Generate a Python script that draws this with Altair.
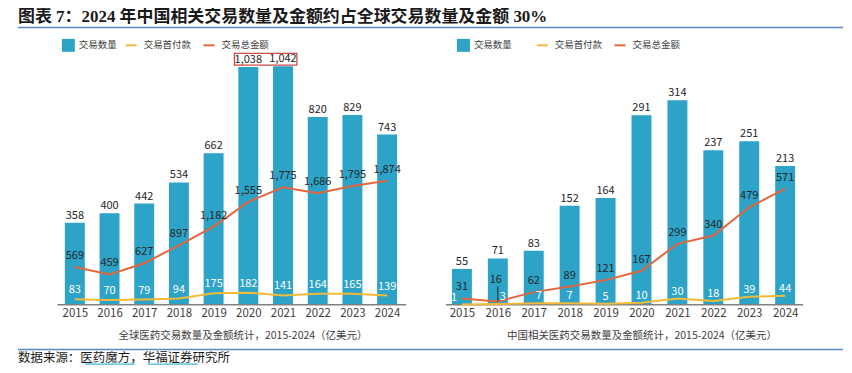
import altair as alt
import pandas as pd

# ---------------- data ----------------
years = [2015, 2016, 2017, 2018, 2019, 2020, 2021, 2022, 2023, 2024]
global_count = [358, 400, 442, 534, 662, 1038, 1042, 820, 829, 743]
global_upfront = [83, 70, 79, 94, 175, 182, 141, 164, 165, 139]
global_total = [569, 459, 627, 897, 1182, 1555, 1775, 1686, 1795, 1874]
china_count = [55, 71, 83, 152, 164, 291, 314, 237, 251, 213]
china_upfront = [1, 3, 7, 7, 5, 10, 30, 18, 39, 44]
china_total = [31, 16, 62, 89, 121, 167, 299, 340, 479, 571]

series_names = ["交易数量", "交易首付款", "交易总金额"]
title_text = "图表 7：2024 年中国相关交易数量及金额约占全球交易数量及金额 30%"
caption_left = "全球医药交易数量及金额统计，2015-2024（亿美元）"
caption_right = "中国相关医药交易数量及金额统计，2015-2024（亿美元）"
source_text = "数据来源：医药魔方，华福证券研究所"

# highlight box around the 2020-2021 global counts (in data units)
box_years = [2019.6, 2021.4]
box_counts = [1046, 1098]

# ---------------- style ----------------
FONT = "Noto Sans CJK SC"
SERIF = "'Liberation Serif', 'Noto Sans CJK SC'"
BLUE = "#2DA3C8"
GOLD = "#F2BA3A"
ORANGE = "#E4663C"
TXT = "#404040"
DARK = "#262626"
RULE_BLUE = "#5A87C8"
H = 269
# horizontal nudges (px) of a few crowded down-payment labels in the right panel
RIGHT_UP_NUDGE = {2015: -8, 2016: 5, 2017: 5}


def panel(count, upfront, total, xdom, bar_max, line_max, base_x, caption,
          title_x, leg_fill_x, leg_stroke_x, width, box=False, up_dy=-9,
          tot_dy=-11, lifted_year=None, up_nudge=None):
    up_nudge = up_nudge or {}
    df = pd.DataFrame({"year": years, "count": count, "s": series_names[0]})
    ldf = pd.DataFrame({
        "year": years * 2,
        "value": upfront + total,
        "series": [series_names[1]] * len(years) + [series_names[2]] * len(years),
    })
    up_df = pd.DataFrame({"year": years, "value": upfront})
    tot_df = pd.DataFrame({"year": years, "value": total})

    xs = alt.Scale(domain=xdom, nice=False, zero=False, padding=0)
    ax = alt.Axis(values=years, format="d", ticks=False, domain=False, grid=False,
                  labelFont=FONT, labelFontSize=11.5, labelColor=TXT, labelPadding=3,
                  title=caption, titleFont=FONT, titleFontSize=10.5,
                  titleFontWeight="normal", titleColor=TXT, titleX=title_x, titleY=31,
                  titleAlign="center", titleBaseline="middle")

    def X(f):
        return alt.X(f, type="quantitative", scale=xs, axis=ax)

    ybar = alt.Scale(domain=[0, bar_max], nice=False, zero=True, padding=0)
    yline = alt.Scale(domain=[0, line_max], nice=False, zero=True, padding=0)

    bars = alt.Chart(df).mark_bar(size=20).encode(
        x=X("year"),
        y=alt.Y("count:Q", scale=ybar, axis=None),
        fill=alt.Fill("s:N", scale=alt.Scale(domain=[series_names[0]], range=[BLUE]),
                      legend=alt.Legend(orient="none", legendX=leg_fill_x, legendY=2.5,
                                        title=None, symbolType="square", symbolSize=169,
                                        symbolStrokeWidth=0, labelFont=FONT,
                                        labelFontSize=9.5, labelColor=TXT, padding=0,
                                        labelOffset=4)),
    )
    blabels = alt.Chart(df).mark_text(dy=-7, fontSize=11, font=FONT, color=DARK,
                                      baseline="middle").encode(
        x=X("year"), y=alt.Y("count:Q", scale=ybar, axis=None),
        text=alt.Text("count:Q", format=","),
    )
    base = alt.Chart(pd.DataFrame({"x0": [base_x[0]], "x1": [base_x[1]], "y0": [0]})).mark_rule(
        color="#808080", strokeWidth=1.5).encode(
        x=X("x0"), x2=alt.X2("x1"), y=alt.Y("y0:Q", scale=ybar, axis=None))
    bar_layers = [bars, blabels, base]
    if box:
        bdf = pd.DataFrame({"x0": [box_years[0]], "x1": [box_years[1]],
                            "y0": [box_counts[0]], "y1": [box_counts[1]]})
        rect = alt.Chart(bdf).mark_rect(fillOpacity=0, stroke="#D0494A", strokeWidth=1.3).encode(
            x=X("x0"), x2=alt.X2("x1"),
            y=alt.Y("y0:Q", scale=ybar, axis=None), y2=alt.Y2("y1"))
        bar_layers.append(rect)

    lines = alt.Chart(ldf).mark_line(strokeWidth=2).encode(
        x=X("year"),
        y=alt.Y("value:Q", scale=yline, axis=None),
        stroke=alt.Stroke("series:N",
                          scale=alt.Scale(domain=series_names[1:], range=[GOLD, ORANGE]),
                          legend=alt.Legend(orient="none", legendX=leg_stroke_x, legendY=2.5,
                                            title=None, direction="horizontal", columns=2,
                                            symbolType="stroke", symbolSize=121,
                                            symbolStrokeWidth=2, labelFont=FONT,
                                            labelFontSize=9.5, labelColor=TXT, padding=0,
                                            labelOffset=6, columnPadding=8)),
    )
    line_layers = [lines]

    def txt(data, dy, color, dx=0):
        return alt.Chart(data).mark_text(dy=dy, dx=dx, fontSize=11, font=FONT, color=color,
                                         baseline="middle").encode(
            x=X("year"), y=alt.Y("value:Q", scale=yline, axis=None),
            text=alt.Text("value:Q", format=","))

    if lifted_year is None:
        line_layers.append(txt(tot_df, tot_dy, DARK))
    else:
        lifted = tot_df[tot_df["year"] == lifted_year]
        line_layers.append(txt(tot_df[tot_df["year"] != lifted_year], tot_dy, DARK))
        line_layers.append(txt(lifted, -22, DARK, dx=-2))
        # leader line from the lifted label down to its point
        line_layers.append(alt.Chart(lifted).mark_rule(color=DARK, strokeWidth=1).encode(
            x=X("year"), y=alt.Y("value:Q", scale=yline, axis=None),
            yOffset=alt.value(-15), y2=alt.Y2("value")))

    plain = up_df[~up_df["year"].isin(list(up_nudge))]
    line_layers.append(txt(plain, up_dy, "white"))
    for yr, dx in up_nudge.items():
        line_layers.append(txt(up_df[up_df["year"] == yr], up_dy, "white", dx=dx))

    return alt.layer(alt.layer(*bar_layers), alt.layer(*line_layers)).resolve_scale(
        y="independent").properties(width=width, height=H)


left = panel(global_count, global_upfront, global_total,
             xdom=[2013.074, 2025.15], bar_max=1172, line_max=4057,
             base_x=[2014.5, 2024.55], caption=caption_left, title_x=235,
             leg_fill_x=54, leg_stroke_x=117, width=420, box=True, up_dy=-9,
             tot_dy=-11)
right = panel(china_count, china_upfront, china_total,
              xdom=[2014.028, 2025.583], bar_max=412, line_max=1319,
              base_x=[2014.556, 2024.5], caption=caption_right, title_x=215,
              leg_fill_x=30, leg_stroke_x=109, width=416, up_dy=-7, tot_dy=-11,
              lifted_year=2016, up_nudge=RIGHT_UP_NUDGE)

middle = alt.hconcat(left, right, spacing=0).resolve_scale(
    fill="independent", stroke="independent", x="independent").resolve_legend(
    fill="independent", stroke="independent")

hdf = pd.DataFrame({"t": [title_text]})
header = alt.layer(
    alt.Chart(hdf).mark_text(align="left", baseline="middle", font=SERIF, fontSize=17,
                             fontWeight="bold", color="#1a1a1a").encode(
        x=alt.value(10), y=alt.value(8), text="t:N"),
    alt.Chart(hdf).mark_rule(color=RULE_BLUE, strokeWidth=1.5).encode(
        x=alt.value(10), x2=alt.value(837), y=alt.value(18)),
).properties(width=836, height=27)

fdf = pd.DataFrame({"t": [source_text]})
footer = alt.layer(
    alt.Chart(fdf).mark_rule(color=RULE_BLUE, strokeWidth=1.5).encode(
        x=alt.value(10), x2=alt.value(837), y=alt.value(8)),
    alt.Chart(fdf).mark_text(align="left", baseline="middle", font=SERIF, fontSize=12.5,
                             color="#1a1a1a").encode(
        x=alt.value(10), y=alt.value(16), text="t:N"),
    alt.Chart(fdf).mark_rule(color="#3BB8DA", strokeWidth=1.2).encode(
        x=alt.value(77), x2=alt.value(127), y=alt.value(22.5)),
    alt.Chart(fdf).mark_rule(color="#3BB8DA", strokeWidth=1.2).encode(
        x=alt.value(140), x2=alt.value(190), y=alt.value(22.5)),
).properties(width=836, height=23)

chart = alt.vconcat(header, middle, footer, spacing=0).properties(
    padding=0, background="white").configure_view(stroke=None)

chart.save("out.html", embed_options={"renderer": "svg", "actions": False})
